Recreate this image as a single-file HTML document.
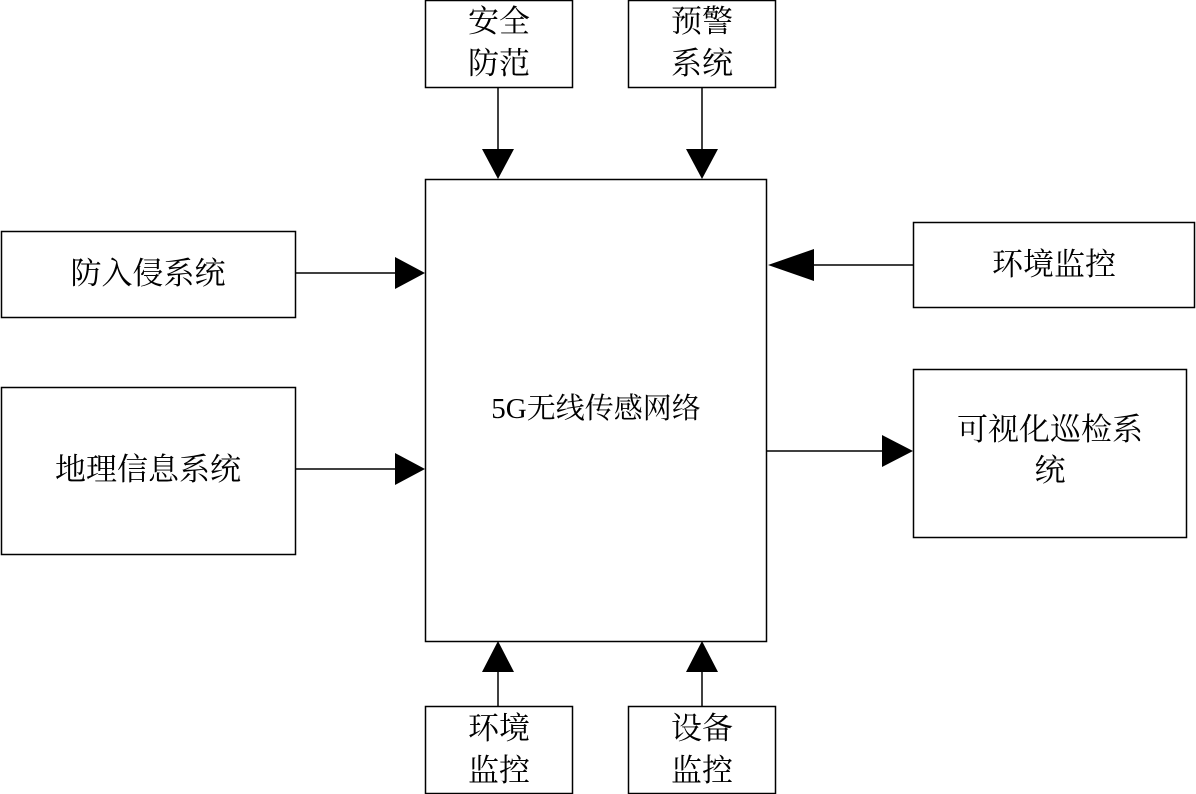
<!DOCTYPE html>
<html><head><meta charset="utf-8"><style>
html,body{margin:0;padding:0;background:#fff;}
svg{display:block}
text{font-family:"Liberation Serif","Noto Serif CJK SC","Noto Sans CJK SC",serif;fill:#000;}
</style></head><body>
<svg width="1196" height="794" viewBox="0 0 1196 794" xmlns="http://www.w3.org/2000/svg">
<g fill="#fff" stroke="#000" stroke-width="1.5">
<rect x="425.5" y="0.5" width="147" height="87"/>
<rect x="628.5" y="0.5" width="147" height="87"/>
<rect x="425.5" y="179.5" width="341" height="462"/>
<rect x="1.5" y="231.5" width="294" height="86"/>
<rect x="1.5" y="387.5" width="294" height="167"/>
<rect x="913.5" y="222.5" width="281" height="85"/>
<rect x="913.5" y="369.5" width="273" height="168"/>
<rect x="425.5" y="706.5" width="147" height="87"/>
<rect x="628.5" y="706.5" width="147" height="87"/>
</g>
<g stroke="#000" stroke-width="1.5">
<line x1="498" y1="87" x2="498" y2="150"/>
<line x1="702" y1="87" x2="702" y2="150"/>
<line x1="295" y1="273" x2="396" y2="273"/>
<line x1="295" y1="469" x2="396" y2="469"/>
<line x1="813" y1="265" x2="913" y2="265"/>
<line x1="766" y1="451" x2="883" y2="451"/>
<line x1="498" y1="670" x2="498" y2="706"/>
<line x1="702" y1="670" x2="702" y2="706"/>
</g>
<g fill="#000">
<polygon points="482,149 514,149 498,179"/>
<polygon points="686,149 718,149 702,179"/>
<polygon points="395,257 395,289 425,273"/>
<polygon points="395,453 395,485 425,469"/>
<polygon points="814,249 814,281 768,265"/>
<polygon points="882,435 882,467 913,451"/>
<polygon points="482,672 514,672 498,641"/>
<polygon points="686,672 718,672 702,641"/>
</g>
<g font-size="31" text-anchor="middle">
<text x="499" y="32">安全</text>
<text x="499" y="74">防范</text>
<text x="702" y="32">预警</text>
<text x="702" y="74">系统</text>
<text x="148" y="284">防入侵系统</text>
<text x="148" y="480">地理信息系统</text>
<text x="1054" y="275">环境监控</text>
<text x="1050" y="440">可视化巡检系</text>
<text x="1050" y="481">统</text>
<text x="499" y="739">环境</text>
<text x="499" y="781">监控</text>
<text x="702" y="739">设备</text>
<text x="702" y="781">监控</text>
<text x="596" y="418" font-size="29">5G无线传感网络</text>
</g>
</svg>
</body></html>
